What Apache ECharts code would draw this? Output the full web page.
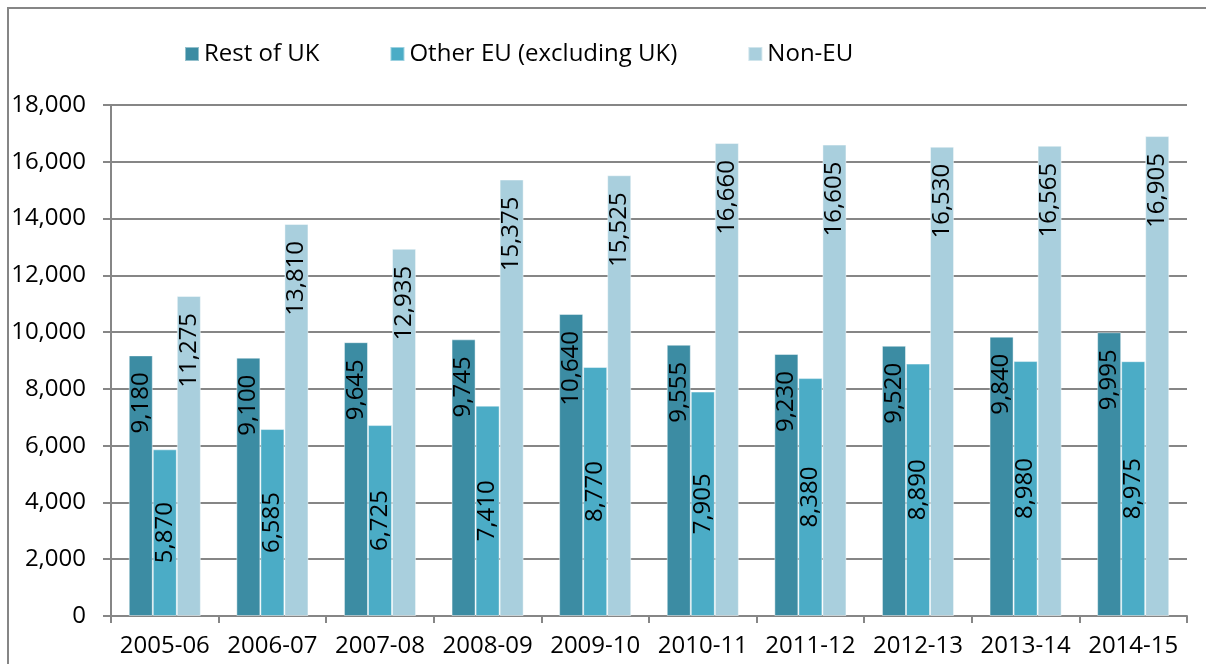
<!DOCTYPE html>
<html>
<head>
<meta charset="utf-8">
<script src="https://cdn.jsdelivr.net/npm/echarts@6/dist/echarts.min.js"></script>
<style>
  html, body { margin: 0; padding: 0; background: #ffffff; }
  #chart { width: 1206px; height: 664px; }
</style>
</head>
<body>
<div id="chart"></div>
<script>
// Academic years on the category axis
const years = ['2005-06', '2006-07', '2007-08', '2008-09', '2009-10',
               '2010-11', '2011-12', '2012-13', '2013-14', '2014-15'];

// Values per domicile group
const restOfUK = [9180, 9100, 9645, 9745, 10640, 9555, 9230, 9520, 9840, 9995];
const otherEU  = [5870, 6585, 6725, 7410, 8770, 7905, 8380, 8890, 8980, 8975];
const nonEU    = [11275, 13810, 12935, 15375, 15525, 16660, 16605, 16530, 16565, 16905];

const seriesNames = ['Rest of UK', 'Other EU (excluding UK)', 'Non-EU'];
const seriesColors = ['#3c8ca3', '#4bacc6', '#a9cfdd'];

const FONT = '"Open Sans", "DejaVu Sans", sans-serif';
const FS = 24;
const fmt = v => v.toLocaleString('en-GB');

// Vertical value labels: near the top of the bar, or centred in it
function makeSeries(name, data, color, centred) {
  const label = {
    show: true,
    rotate: 90,
    color: '#000000',
    fontFamily: FONT,
    fontSize: FS,
    formatter: p => fmt(p.value)
  };
  if (centred) {
    label.position = 'inside';
    label.align = 'center';
    label.verticalAlign = 'middle';
  } else {
    label.position = 'insideTop';
    label.distance = 17;
    label.align = 'right';
    label.verticalAlign = 'middle';
  }
  return {
    name: name,
    type: 'bar',
    data: data,
    barGap: '0%',
    barCategoryGap: '33%',
    itemStyle: { color: color, borderColor: 'rgba(255,255,255,0.45)', borderWidth: 1 },
    label: label
  };
}

const chart = echarts.init(document.getElementById('chart'), null, { renderer: 'canvas' });
chart.setOption({
  animation: false,
  backgroundColor: '#ffffff',
  graphic: [{
    type: 'rect',
    shape: { x: 8, y: 8, width: 1210, height: 680 },
    style: { fill: 'none', stroke: '#868686', lineWidth: 2 },
    silent: true
  }],
  legend: {
    left: 179,
    top: 37,
    itemWidth: 14,
    itemHeight: 14,
    itemGap: 70,
    icon: 'rect',
    textStyle: { fontFamily: FONT, fontSize: FS, color: '#000000' },
    data: seriesNames
  },
  grid: { left: 111, right: 19, top: 105, bottom: 48, containLabel: false },
  xAxis: {
    type: 'category',
    data: years,
    axisLine: { lineStyle: { color: '#868686', width: 2 } },
    axisTick: { show: true, alignWithLabel: false, length: 7, lineStyle: { color: '#868686', width: 2 } },
    axisLabel: { color: '#000000', fontFamily: FONT, fontSize: FS, margin: 18, interval: 0 }
  },
  yAxis: {
    type: 'value',
    min: 0,
    max: 18000,
    interval: 2000,
    axisLine: { show: true, lineStyle: { color: '#868686', width: 2 } },
    axisTick: { show: true, length: 8, lineStyle: { color: '#868686', width: 2 } },
    axisLabel: { color: '#000000', fontFamily: FONT, fontSize: FS, margin: 25, formatter: v => fmt(v) },
    splitLine: { show: true, lineStyle: { color: '#868686', width: 2 } }
  },
  series: [
    makeSeries(seriesNames[0], restOfUK, seriesColors[0], false),
    makeSeries(seriesNames[1], otherEU, seriesColors[1], true),
    makeSeries(seriesNames[2], nonEU, seriesColors[2], false)
  ]
});
</script>
</body>
</html>
